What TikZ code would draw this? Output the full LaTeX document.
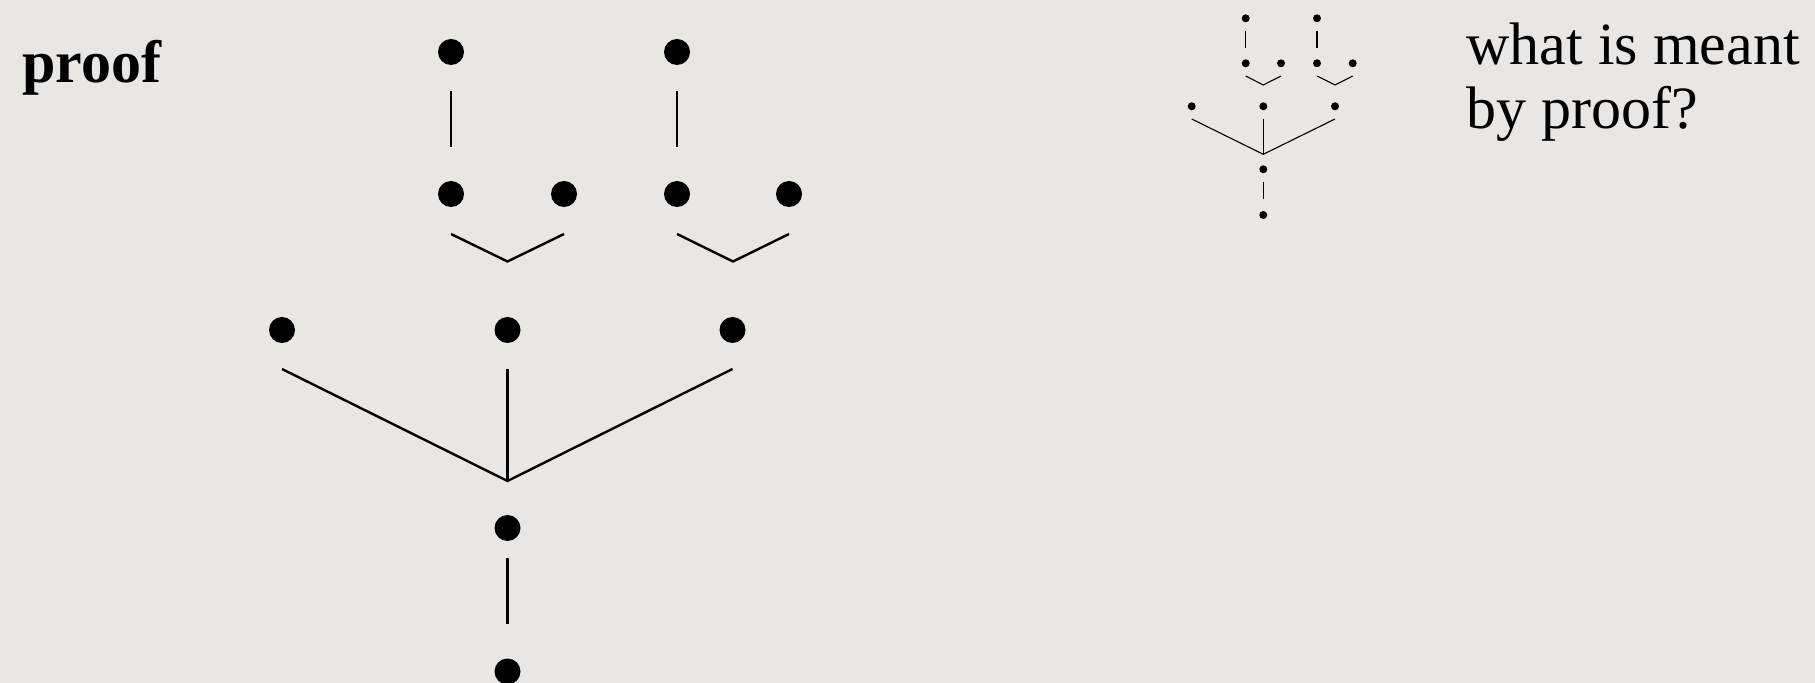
\documentclass[tikz,border=0pt]{standalone}
\usepackage{fontspec}
\setmainfont{Liberation Serif}

\definecolor{parchment}{RGB}{233,231,228}

\begin{document}
\begin{tikzpicture}[
    x=0.5pt, y=-0.5pt,
    dot/.style={circle, fill=black, inner sep=0pt, minimum size=13pt},
    sdot/.style={circle, fill=black, inner sep=0pt, minimum size=4pt},
    edge/.style={line width=1.2pt},
    sedge/.style={line width=0.55pt},
    txt/.style={font=\fontsize{30}{31.7}\selectfont, inner sep=0pt},
]

% Background
\fill[parchment] (0,0) rectangle (1815,683);
\useasboundingbox (0,0) rectangle (1815,683);

% Title
\node[txt, font=\fontsize{30}{31.7}\selectfont\bfseries, anchor=base west] (title) at (22,83) {proof};

% Big tree: leaves and first steps
\foreach \i/\x in {1/451, 2/677} {
    \node[dot] (t\i) at (\x, 52) {};
}
\foreach \i/\x in {1/451, 2/564, 3/677, 4/789} {
    \node[dot] (a\i) at (\x, 194) {};
}
\foreach \i/\j in {1/1, 2/3} {
    \draw[edge] ([yshift=-19.5pt]t\i.center) -- ([yshift=23.5pt]a\j.center);
}

% Big tree: two-premise steps
\coordinate (v1) at (507.5, 261.5);
\coordinate (v2) at (733, 261.5);
\draw[edge] ([yshift=-20pt]a1.center) -- (v1) -- ([yshift=-20pt]a2.center);
\draw[edge] ([yshift=-20pt]a3.center) -- (v2) -- ([yshift=-20pt]a4.center);

% Big tree: three-premise step
\foreach \i/\x in {1/282, 2/507.5, 3/732.5} {
    \node[dot] (b\i) at (\x, 330) {};
}
\coordinate (root) at (507.5, 481);
\draw[edge] ([yshift=-19.5pt]b1.center) -- (root) -- ([yshift=-19.5pt]b3.center);
\draw[edge] ([yshift=-19.5pt]b2.center) -- (root);

% Big tree: conclusion
\node[dot] (c) at (507.5, 528) {};
\node[dot] (d) at (507.5, 671.5) {};
\draw[edge] ([yshift=-15pt]c.center) -- ([yshift=23.75pt]d.center);

% Small tree
\foreach \i/\x in {1/1245.7, 2/1317} {
    \node[sdot] (st\i) at (\x, 18.3) {};
}
\foreach \i/\x in {1/1245.7, 2/1281, 3/1317, 4/1352.7} {
    \node[sdot] (sa\i) at (\x, 63.3) {};
}
\foreach \i/\j in {1/1, 2/3} {
    \draw[sedge] ([yshift=-6.35pt]st\i.center) -- ([yshift=7.5pt]sa\j.center);
}
\coordinate (sv1) at (1263.3, 85);
\coordinate (sv2) at (1335, 85);
\draw[sedge] ([yshift=-6.35pt]sa1.center) -- (sv1) -- ([yshift=-6.35pt]sa2.center);
\draw[sedge] ([yshift=-6.35pt]sa3.center) -- (sv2) -- ([yshift=-6.35pt]sa4.center);
\foreach \i/\x in {1/1191.7, 2/1263.3, 3/1335} {
    \node[sdot] (sb\i) at (\x, 106.3) {};
}
\coordinate (sroot) at (1263.3, 154.3);
\draw[sedge] ([yshift=-6.35pt]sb1.center) -- (sroot) -- ([yshift=-6.35pt]sb3.center);
\draw[sedge] ([yshift=-6.35pt]sb2.center) -- (sroot);
\node[sdot] (sc) at (1263.3, 169.3) {};
\node[sdot] (sd) at (1263.3, 215) {};
\draw[sedge] ([yshift=-6.2pt]sc.center) -- ([yshift=7.85pt]sd.center);

% Question
\node[txt, anchor=base west, align=left] (question) at (1466, 128.3) {what is meant\\by proof?};

\end{tikzpicture}
\end{document}
